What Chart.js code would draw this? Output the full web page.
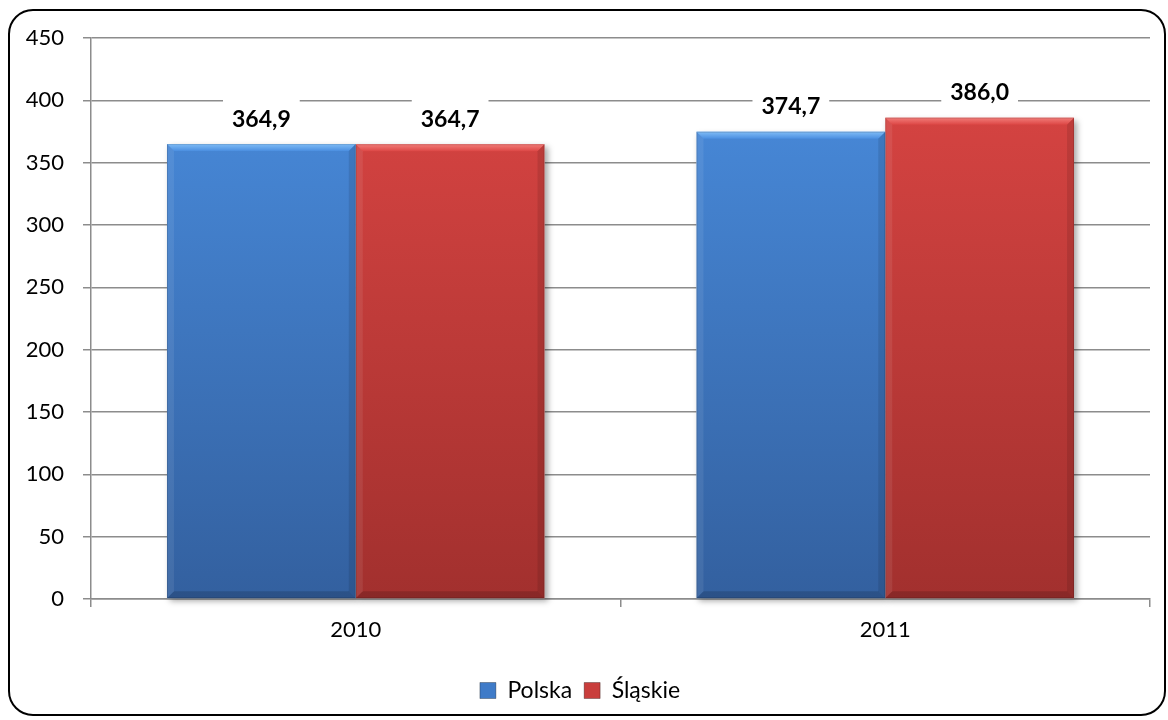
<!DOCTYPE html>
<html>
<head>
<meta charset="utf-8">
<script src="https://cdn.jsdelivr.net/npm/chart.js@4/dist/chart.umd.min.js"></script>
<style>
html,body{margin:0;padding:0;background:#fff;}
#wrap{position:relative;width:1168px;height:720px;}
</style>
</head>
<body>
<div id="wrap"><canvas id="c" width="1168" height="720"></canvas></div>
<script>
const categories = ['2010', '2011'];
const seriesNames = ['Polska', 'Śląskie'];
const polska = [364.9, 374.7];
const slaskie = [364.7, 386.0];
const yMin = 0, yMax = 450, yStep = 50;

const FONT = 'Lato, "Open Sans", sans-serif';

const palette = [
  {top: '#4a8ee0', bottom: '#33609f', light: '#7fbcf6', legend: '#3f7bc8'},
  {top: '#dc4644', bottom: '#a2302e', light: '#f27c79', legend: '#c93e3c'}
];

function gradFor(i) {
  return function(ctx) {
    const chart = ctx.chart;
    const a = chart.chartArea;
    if (!a) return palette[i].top;
    const g = chart.ctx.createLinearGradient(0, a.top, 0, a.bottom);
    g.addColorStop(0, palette[i].top);
    g.addColorStop(1, palette[i].bottom);
    return g;
  };
}

const borderPlugin = {
  id: 'frame',
  beforeDraw(chart) {
    const c = chart.ctx;
    c.save();
    c.fillStyle = '#fff';
    c.fillRect(0, 0, chart.width, chart.height);
    c.beginPath();
    c.roundRect(9, 10, 1156, 705, 24);
    c.lineWidth = 2;
    c.strokeStyle = '#000';
    c.stroke();
    c.restore();
  }
};

const shadowPlugin = {
  id: 'barShadow',
  beforeDatasetsDraw(chart) {
    const c = chart.ctx;
    c.save();
    chart.data.datasets.forEach((ds, di) => {
      chart.getDatasetMeta(di).data.forEach(bar => {
        const l = bar.x - bar.width / 2, r = bar.x + bar.width / 2;
        c.shadowColor = 'rgba(0,0,0,0.35)';
        c.shadowBlur = 6;
        c.shadowOffsetX = 3;
        c.shadowOffsetY = 3;
        c.fillStyle = '#fff';
        c.fillRect(l, bar.y, r - l, bar.base - bar.y);
      });
    });
    c.restore();
  }
};

const bevelPlugin = {
  id: 'bevel',
  afterDatasetsDraw(chart) {
    const c = chart.ctx;
    const b = 7;
    c.save();
    chart.data.datasets.forEach((ds, di) => {
      chart.getDatasetMeta(di).data.forEach((bar, idx) => {
        const l = bar.x - bar.width / 2, r = bar.x + bar.width / 2;
        const t = bar.y, bo = bar.base;
        c.beginPath();
        c.moveTo(l, t); c.lineTo(r, t); c.lineTo(r - b, t + b); c.lineTo(l + b, t + b); c.closePath();
        const gt = c.createLinearGradient(0, t, 0, t + b);
        gt.addColorStop(0, palette[di].light);
        gt.addColorStop(1, palette[di].top);
        c.fillStyle = gt; c.fill();
        c.beginPath();
        c.moveTo(l, t); c.lineTo(l + b, t + b); c.lineTo(l + b, bo - b); c.lineTo(l, bo); c.closePath();
        c.fillStyle = 'rgba(255,255,255,0.08)'; c.fill();
        c.beginPath();
        c.moveTo(r, t); c.lineTo(r - b, t + b); c.lineTo(r - b, bo - b); c.lineTo(r, bo); c.closePath();
        c.fillStyle = 'rgba(0,0,0,0.10)'; c.fill();
        c.beginPath();
        c.moveTo(l, bo); c.lineTo(l + b, bo - b); c.lineTo(r - b, bo - b); c.lineTo(r, bo); c.closePath();
        c.fillStyle = 'rgba(0,0,0,0.15)'; c.fill();
        c.strokeStyle = 'rgba(0,0,0,0.12)';
        c.lineWidth = 1;
        c.strokeRect(l + 0.5, t + 0.5, r - l - 1, bo - t - 1);
      });
    });
    c.restore();
  }
};

const labelPlugin = {
  id: 'valueLabels',
  afterDatasetsDraw(chart) {
    const c = chart.ctx;
    c.save();
    c.font = 'bold 23px ' + FONT;
    c.textAlign = 'center';
    c.textBaseline = 'middle';
    chart.data.datasets.forEach((ds, di) => {
      chart.getDatasetMeta(di).data.forEach((bar, idx) => {
        const txt = ds.data[idx].toFixed(1).replace('.', ',');
        const cy = bar.y - 26;
        const w = c.measureText(txt).width + 18;
        c.fillStyle = '#fff';
        c.fillRect(bar.x - w / 2, cy - 19, w, 38);
        c.fillStyle = '#000';
        c.fillText(txt, bar.x, cy + 1);
      });
    });
    c.restore();
  }
};

new Chart(document.getElementById('c'), {
  type: 'bar',
  data: {
    labels: categories,
    datasets: [
      {label: seriesNames[0], data: polska, backgroundColor: gradFor(0), borderWidth: 0},
      {label: seriesNames[1], data: slaskie, backgroundColor: gradFor(1), borderWidth: 0}
    ]
  },
  options: {
    responsive: false,
    animation: false,
    devicePixelRatio: 1,
    layout: {padding: {left: 10, top: 38, right: 18, bottom: 8}},
    datasets: {bar: {barPercentage: 1, categoryPercentage: 0.713}},
    scales: {
      y: {
        min: yMin, max: yMax,
        ticks: {stepSize: yStep, color: '#000', font: {size: 22, family: FONT}, padding: 19},
        grid: {color: '#8c8c8c', lineWidth: 1.5, tickLength: 8, drawTicks: true},
        border: {display: true, color: '#8c8c8c', width: 1.5},
        afterFit(scale) { scale.width = 81; }
      },
      x: {
        ticks: {color: '#000', font: {size: 22, family: FONT}, padding: 10},
        grid: {display: true, drawOnChartArea: false, drawTicks: true, tickLength: 8, color: '#8c8c8c', lineWidth: 1.5, offset: true},
        border: {display: true, color: '#8c8c8c', width: 1.5},
        afterFit(scale) { scale.height = 68; }
      }
    },
    plugins: {
      legend: {
        position: 'bottom',
        labels: {
          color: '#000',
          font: {size: 23, family: FONT},
          boxWidth: 16, boxHeight: 16, padding: 12,
          generateLabels(chart) {
            return chart.data.datasets.map((ds, i) => ({
              text: ds.label, fillStyle: palette[i].legend, strokeStyle: 'rgba(0,0,0,0.3)', lineWidth: 1,
              hidden: false, datasetIndex: i, fontColor: '#000'
            }));
          }
        }
      },
      tooltip: {enabled: false}
    }
  },
  plugins: [borderPlugin, shadowPlugin, bevelPlugin, labelPlugin]
});
</script>
</body>
</html>
